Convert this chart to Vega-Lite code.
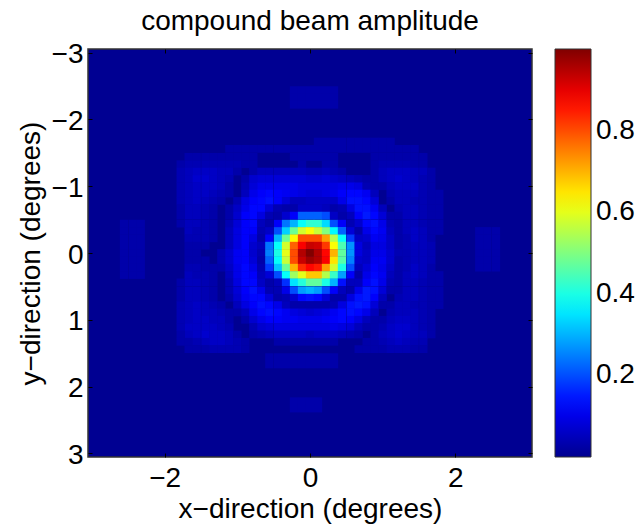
{"$schema":"https://vega.github.io/schema/vega-lite/v6.json","autosize":"none","padding":{"left":88,"right":103,"top":49,"bottom":67},"width":444,"height":408,"background":"white",
"title":{"text":"compound beam amplitude","font":"Liberation Sans","fontSize":28,"fontWeight":"normal","color":"black","offset":5,"anchor":"middle"},
"config":{"view":{"fill":"#000092","stroke":"#333333","strokeWidth":1.5}},
"resolve":{"scale":{"x":"independent","y":"independent"},"axis":{"x":"independent","y":"independent"}},
"layer":[{"data":{"values":[
{"x":0.11,"y":-1.67,"v":0.03},{"x":0.22,"y":-1.67,"v":0.03},{"x":0.33,"y":-1.67,"v":0.03},{"x":0.44,"y":-1.67,"v":0.03},{"x":0.56,"y":-1.67,"v":0.03},{"x":0.67,"y":-1.67,"v":0.03},{"x":0.78,"y":-1.67,"v":0.03},{"x":0.89,"y":-1.67,"v":0.03},{"x":1,"y":-1.67,"v":0.03},{"x":1.11,"y":-1.67,"v":0.03},
{"x":-1.11,"y":-1.56,"v":0.03},{"x":-1,"y":-1.56,"v":0.03},{"x":-0.89,"y":-1.56,"v":0.03},{"x":-0.78,"y":-1.56,"v":0.03},{"x":-0.67,"y":-1.56,"v":0.03},{"x":-0.56,"y":-1.56,"v":0.03},{"x":-0.44,"y":-1.56,"v":0.03},{"x":-0.33,"y":-1.56,"v":0.03},{"x":-0.22,"y":-1.56,"v":0.03},{"x":-0.11,"y":-1.56,"v":0.03},{"x":0,"y":-1.56,"v":0.03},{"x":0.11,"y":-1.56,"v":0.03},{"x":0.22,"y":-1.56,"v":0.03},{"x":0.33,"y":-1.56,"v":0.03},{"x":0.44,"y":-1.56,"v":0.03},{"x":0.56,"y":-1.56,"v":0.03},{"x":0.67,"y":-1.56,"v":0.03},{"x":0.78,"y":-1.56,"v":0.03},{"x":0.89,"y":-1.56,"v":0.03},{"x":1,"y":-1.56,"v":0.03},{"x":1.11,"y":-1.56,"v":0.03},{"x":1.22,"y":-1.56,"v":0.03},{"x":1.33,"y":-1.56,"v":0.03},{"x":1.44,"y":-1.56,"v":0.03},
{"x":-1.67,"y":-1.44,"v":0.03},{"x":-1.56,"y":-1.44,"v":0.03},{"x":-1.44,"y":-1.44,"v":0.03},{"x":-1.33,"y":-1.44,"v":0.03},{"x":-1.22,"y":-1.44,"v":0.03},{"x":-1.11,"y":-1.44,"v":0.03},{"x":-1,"y":-1.44,"v":0.03},{"x":-0.89,"y":-1.44,"v":0.03},{"x":-0.78,"y":-1.44,"v":0.03},{"x":-0.22,"y":-1.44,"v":0.03},{"x":-0.11,"y":-1.44,"v":0.03},{"x":0,"y":-1.44,"v":0.03},{"x":0.11,"y":-1.44,"v":0.03},{"x":0.22,"y":-1.44,"v":0.03},{"x":0.33,"y":-1.44,"v":0.03},{"x":0.89,"y":-1.44,"v":0.03},{"x":1,"y":-1.44,"v":0.03},{"x":1.11,"y":-1.44,"v":0.03},{"x":1.22,"y":-1.44,"v":0.03},{"x":1.33,"y":-1.44,"v":0.03},{"x":1.44,"y":-1.44,"v":0.03},{"x":1.56,"y":-1.44,"v":0.03},
{"x":-1.67,"y":-1.33,"v":0.04},{"x":-1.56,"y":-1.33,"v":0.04},{"x":-1.44,"y":-1.33,"v":0.04},{"x":-1.33,"y":-1.33,"v":0.04},{"x":-1.22,"y":-1.33,"v":0.04},{"x":-1.11,"y":-1.33,"v":0.04},{"x":-1,"y":-1.33,"v":0.04},{"x":-0.89,"y":-1.33,"v":0.03},{"x":-0.78,"y":-1.33,"v":0.03},{"x":-0.11,"y":-1.33,"v":0.03},{"x":0.22,"y":-1.33,"v":0.03},{"x":0.33,"y":-1.33,"v":0.03},{"x":0.89,"y":-1.33,"v":0.03},{"x":1,"y":-1.33,"v":0.04},{"x":1.11,"y":-1.33,"v":0.04},{"x":1.22,"y":-1.33,"v":0.04},{"x":1.33,"y":-1.33,"v":0.04},{"x":1.44,"y":-1.33,"v":0.03},{"x":1.56,"y":-1.33,"v":0.03},
{"x":-1.67,"y":-1.22,"v":0.05},{"x":-1.56,"y":-1.22,"v":0.06},{"x":-1.44,"y":-1.22,"v":0.06},{"x":-1.33,"y":-1.22,"v":0.06},{"x":-1.22,"y":-1.22,"v":0.05},{"x":-1.11,"y":-1.22,"v":0.05},{"x":-1,"y":-1.22,"v":0.03},{"x":-0.78,"y":-1.22,"v":0.03},{"x":-0.67,"y":-1.22,"v":0.05},{"x":-0.56,"y":-1.22,"v":0.05},{"x":-0.44,"y":-1.22,"v":0.05},{"x":-0.33,"y":-1.22,"v":0.05},{"x":-0.22,"y":-1.22,"v":0.05},{"x":-0.11,"y":-1.22,"v":0.05},{"x":0,"y":-1.22,"v":0.04},{"x":0.11,"y":-1.22,"v":0.04},{"x":0.22,"y":-1.22,"v":0.05},{"x":0.33,"y":-1.22,"v":0.04},{"x":0.44,"y":-1.22,"v":0.03},{"x":0.89,"y":-1.22,"v":0.03},{"x":1,"y":-1.22,"v":0.05},{"x":1.11,"y":-1.22,"v":0.06},{"x":1.22,"y":-1.22,"v":0.06},{"x":1.33,"y":-1.22,"v":0.06},{"x":1.44,"y":-1.22,"v":0.05},{"x":1.56,"y":-1.22,"v":0.05},{"x":1.67,"y":-1.22,"v":0.03},
{"x":-1.67,"y":-1.11,"v":0.05},{"x":-1.56,"y":-1.11,"v":0.07},{"x":-1.44,"y":-1.11,"v":0.07},{"x":-1.33,"y":-1.11,"v":0.06},{"x":-1.22,"y":-1.11,"v":0.05},{"x":-1.11,"y":-1.11,"v":0.04},{"x":-0.89,"y":-1.11,"v":0.03},{"x":-0.78,"y":-1.11,"v":0.07},{"x":-0.67,"y":-1.11,"v":0.08},{"x":-0.56,"y":-1.11,"v":0.08},{"x":-0.44,"y":-1.11,"v":0.08},{"x":-0.33,"y":-1.11,"v":0.08},{"x":-0.22,"y":-1.11,"v":0.08},{"x":-0.11,"y":-1.11,"v":0.08},{"x":0,"y":-1.11,"v":0.07},{"x":0.11,"y":-1.11,"v":0.07},{"x":0.22,"y":-1.11,"v":0.08},{"x":0.33,"y":-1.11,"v":0.07},{"x":0.44,"y":-1.11,"v":0.06},{"x":0.56,"y":-1.11,"v":0.05},{"x":0.67,"y":-1.11,"v":0.04},{"x":0.78,"y":-1.11,"v":0.03},{"x":0.89,"y":-1.11,"v":0.03},{"x":1,"y":-1.11,"v":0.05},{"x":1.11,"y":-1.11,"v":0.06},{"x":1.22,"y":-1.11,"v":0.07},{"x":1.33,"y":-1.11,"v":0.06},{"x":1.44,"y":-1.11,"v":0.05},{"x":1.56,"y":-1.11,"v":0.04},{"x":1.67,"y":-1.11,"v":0.03},
{"x":-1.67,"y":-1,"v":0.05},{"x":-1.56,"y":-1,"v":0.06},{"x":-1.44,"y":-1,"v":0.06},{"x":-1.33,"y":-1,"v":0.06},{"x":-1.22,"y":-1,"v":0.05},{"x":-1.11,"y":-1,"v":0.03},{"x":-0.89,"y":-1,"v":0.04},{"x":-0.78,"y":-1,"v":0.08},{"x":-0.67,"y":-1,"v":0.1},{"x":-0.56,"y":-1,"v":0.1},{"x":-0.44,"y":-1,"v":0.1},{"x":-0.33,"y":-1,"v":0.1},{"x":-0.22,"y":-1,"v":0.1},{"x":-0.11,"y":-1,"v":0.09},{"x":0,"y":-1,"v":0.09},{"x":0.11,"y":-1,"v":0.09},{"x":0.22,"y":-1,"v":0.09},{"x":0.33,"y":-1,"v":0.09},{"x":0.44,"y":-1,"v":0.1},{"x":0.56,"y":-1,"v":0.1},{"x":0.67,"y":-1,"v":0.09},{"x":0.78,"y":-1,"v":0.04},{"x":0.89,"y":-1,"v":0.03},{"x":1,"y":-1,"v":0.03},{"x":1.11,"y":-1,"v":0.05},{"x":1.22,"y":-1,"v":0.06},{"x":1.33,"y":-1,"v":0.06},{"x":1.44,"y":-1,"v":0.06},{"x":1.56,"y":-1,"v":0.04},{"x":1.67,"y":-1,"v":0.03},
{"x":-1.67,"y":-0.89,"v":0.05},{"x":-1.56,"y":-0.89,"v":0.06},{"x":-1.44,"y":-0.89,"v":0.06},{"x":-1.33,"y":-0.89,"v":0.05},{"x":-1.22,"y":-0.89,"v":0.04},{"x":-1.11,"y":-0.89,"v":0.03},{"x":-0.89,"y":-0.89,"v":0.05},{"x":-0.78,"y":-0.89,"v":0.1},{"x":-0.67,"y":-0.89,"v":0.12},{"x":-0.56,"y":-0.89,"v":0.13},{"x":-0.44,"y":-0.89,"v":0.12},{"x":-0.33,"y":-0.89,"v":0.11},{"x":-0.22,"y":-0.89,"v":0.1},{"x":-0.11,"y":-0.89,"v":0.09},{"x":0,"y":-0.89,"v":0.08},{"x":0.11,"y":-0.89,"v":0.08},{"x":0.22,"y":-0.89,"v":0.09},{"x":0.33,"y":-0.89,"v":0.1},{"x":0.44,"y":-0.89,"v":0.12},{"x":0.56,"y":-0.89,"v":0.13},{"x":0.67,"y":-0.89,"v":0.13},{"x":0.78,"y":-0.89,"v":0.11},{"x":0.89,"y":-0.89,"v":0.05},{"x":1.11,"y":-0.89,"v":0.04},{"x":1.22,"y":-0.89,"v":0.05},{"x":1.33,"y":-0.89,"v":0.05},{"x":1.44,"y":-0.89,"v":0.05},{"x":1.56,"y":-0.89,"v":0.04},{"x":1.67,"y":-0.89,"v":0.03},
{"x":-1.67,"y":-0.78,"v":0.05},{"x":-1.56,"y":-0.78,"v":0.06},{"x":-1.44,"y":-0.78,"v":0.05},{"x":-1.33,"y":-0.78,"v":0.04},{"x":-1.22,"y":-0.78,"v":0.03},{"x":-1,"y":-0.78,"v":0.04},{"x":-0.89,"y":-0.78,"v":0.09},{"x":-0.78,"y":-0.78,"v":0.12},{"x":-0.67,"y":-0.78,"v":0.13},{"x":-0.56,"y":-0.78,"v":0.14},{"x":-0.44,"y":-0.78,"v":0.12},{"x":-0.33,"y":-0.78,"v":0.08},{"x":-0.22,"y":-0.78,"v":0.05},{"x":-0.11,"y":-0.78,"v":0.05},{"x":0,"y":-0.78,"v":0.06},{"x":0.11,"y":-0.78,"v":0.06},{"x":0.22,"y":-0.78,"v":0.06},{"x":0.33,"y":-0.78,"v":0.06},{"x":0.44,"y":-0.78,"v":0.1},{"x":0.56,"y":-0.78,"v":0.14},{"x":0.67,"y":-0.78,"v":0.14},{"x":0.78,"y":-0.78,"v":0.13},{"x":0.89,"y":-0.78,"v":0.08},{"x":1.11,"y":-0.78,"v":0.03},{"x":1.22,"y":-0.78,"v":0.05},{"x":1.33,"y":-0.78,"v":0.05},{"x":1.44,"y":-0.78,"v":0.04},{"x":1.56,"y":-0.78,"v":0.04},{"x":1.67,"y":-0.78,"v":0.03},
{"x":-1.67,"y":-0.67,"v":0.05},{"x":-1.56,"y":-0.67,"v":0.05},{"x":-1.44,"y":-0.67,"v":0.04},{"x":-1.33,"y":-0.67,"v":0.03},{"x":-1.11,"y":-0.67,"v":0.03},{"x":-1,"y":-0.67,"v":0.06},{"x":-0.89,"y":-0.67,"v":0.1},{"x":-0.78,"y":-0.67,"v":0.13},{"x":-0.67,"y":-0.67,"v":0.13},{"x":-0.56,"y":-0.67,"v":0.08},{"x":-0.44,"y":-0.67,"v":0.04},{"x":-0.33,"y":-0.67,"v":0.03},{"x":-0.22,"y":-0.67,"v":0.03},{"x":-0.11,"y":-0.67,"v":0.06},{"x":0,"y":-0.67,"v":0.06},{"x":0.11,"y":-0.67,"v":0.06},{"x":0.22,"y":-0.67,"v":0.05},{"x":0.33,"y":-0.67,"v":0.03},{"x":0.44,"y":-0.67,"v":0.04},{"x":0.56,"y":-0.67,"v":0.09},{"x":0.67,"y":-0.67,"v":0.14},{"x":0.78,"y":-0.67,"v":0.14},{"x":0.89,"y":-0.67,"v":0.11},{"x":1,"y":-0.67,"v":0.05},{"x":1.22,"y":-0.67,"v":0.04},{"x":1.33,"y":-0.67,"v":0.05},{"x":1.44,"y":-0.67,"v":0.05},{"x":1.56,"y":-0.67,"v":0.04},{"x":1.67,"y":-0.67,"v":0.03},
{"x":-1.67,"y":-0.56,"v":0.05},{"x":-1.56,"y":-0.56,"v":0.05},{"x":-1.44,"y":-0.56,"v":0.04},{"x":-1.33,"y":-0.56,"v":0.03},{"x":-1.11,"y":-0.56,"v":0.03},{"x":-1,"y":-0.56,"v":0.07},{"x":-0.89,"y":-0.56,"v":0.12},{"x":-0.78,"y":-0.56,"v":0.13},{"x":-0.67,"y":-0.56,"v":0.09},{"x":-0.56,"y":-0.56,"v":0.04},{"x":-0.44,"y":-0.56,"v":0.03},{"x":-0.33,"y":-0.56,"v":0.07},{"x":-0.22,"y":-0.56,"v":0.12},{"x":-0.11,"y":-0.56,"v":0.22},{"x":0,"y":-0.56,"v":0.22},{"x":0.11,"y":-0.56,"v":0.22},{"x":0.22,"y":-0.56,"v":0.2},{"x":0.33,"y":-0.56,"v":0.06},{"x":0.44,"y":-0.56,"v":0.03},{"x":0.56,"y":-0.56,"v":0.05},{"x":0.67,"y":-0.56,"v":0.12},{"x":0.78,"y":-0.56,"v":0.15},{"x":0.89,"y":-0.56,"v":0.13},{"x":1,"y":-0.56,"v":0.08},{"x":1.11,"y":-0.56,"v":0.03},{"x":1.22,"y":-0.56,"v":0.03},{"x":1.33,"y":-0.56,"v":0.05},{"x":1.44,"y":-0.56,"v":0.05},{"x":1.56,"y":-0.56,"v":0.04},{"x":1.67,"y":-0.56,"v":0.03},
{"x":-1.67,"y":-0.44,"v":0.05},{"x":-1.56,"y":-0.44,"v":0.05},{"x":-1.44,"y":-0.44,"v":0.04},{"x":-1.33,"y":-0.44,"v":0.03},{"x":-1.11,"y":-0.44,"v":0.04},{"x":-1,"y":-0.44,"v":0.08},{"x":-0.89,"y":-0.44,"v":0.12},{"x":-0.78,"y":-0.44,"v":0.13},{"x":-0.67,"y":-0.44,"v":0.05},{"x":-0.56,"y":-0.44,"v":0.03},{"x":-0.44,"y":-0.44,"v":0.12},{"x":-0.33,"y":-0.44,"v":0.24},{"x":-0.22,"y":-0.44,"v":0.3},{"x":-0.11,"y":-0.44,"v":0.38},{"x":0,"y":-0.44,"v":0.42},{"x":0.11,"y":-0.44,"v":0.42},{"x":0.22,"y":-0.44,"v":0.34},{"x":0.33,"y":-0.44,"v":0.2},{"x":0.44,"y":-0.44,"v":0.12},{"x":0.56,"y":-0.44,"v":0.04},{"x":0.67,"y":-0.44,"v":0.07},{"x":0.78,"y":-0.44,"v":0.13},{"x":0.89,"y":-0.44,"v":0.14},{"x":1,"y":-0.44,"v":0.1},{"x":1.11,"y":-0.44,"v":0.04},{"x":1.22,"y":-0.44,"v":0.03},{"x":1.33,"y":-0.44,"v":0.05},{"x":1.44,"y":-0.44,"v":0.05},{"x":1.56,"y":-0.44,"v":0.04},{"x":1.67,"y":-0.44,"v":0.03},
{"x":-1.67,"y":-0.33,"v":0.05},{"x":-1.56,"y":-0.33,"v":0.04},{"x":-1.44,"y":-0.33,"v":0.04},{"x":-1.33,"y":-0.33,"v":0.03},{"x":-1.11,"y":-0.33,"v":0.05},{"x":-1,"y":-0.33,"v":0.09},{"x":-0.89,"y":-0.33,"v":0.12},{"x":-0.78,"y":-0.33,"v":0.12},{"x":-0.67,"y":-0.33,"v":0.04},{"x":-0.56,"y":-0.33,"v":0.06},{"x":-0.44,"y":-0.33,"v":0.2},{"x":-0.33,"y":-0.33,"v":0.33},{"x":-0.22,"y":-0.33,"v":0.48},{"x":-0.11,"y":-0.33,"v":0.58},{"x":0,"y":-0.33,"v":0.62},{"x":0.11,"y":-0.33,"v":0.57},{"x":0.22,"y":-0.33,"v":0.5},{"x":0.33,"y":-0.33,"v":0.37},{"x":0.44,"y":-0.33,"v":0.22},{"x":0.56,"y":-0.33,"v":0.08},{"x":0.67,"y":-0.33,"v":0.03},{"x":0.78,"y":-0.33,"v":0.1},{"x":0.89,"y":-0.33,"v":0.13},{"x":1,"y":-0.33,"v":0.11},{"x":1.11,"y":-0.33,"v":0.05},{"x":1.22,"y":-0.33,"v":0.03},{"x":1.33,"y":-0.33,"v":0.05},{"x":1.44,"y":-0.33,"v":0.06},{"x":1.56,"y":-0.33,"v":0.05},{"x":1.67,"y":-0.33,"v":0.03},
{"x":-1.67,"y":-0.22,"v":0.04},{"x":-1.56,"y":-0.22,"v":0.04},{"x":-1.44,"y":-0.22,"v":0.04},{"x":-1.33,"y":-0.22,"v":0.03},{"x":-1.11,"y":-0.22,"v":0.05},{"x":-1,"y":-0.22,"v":0.09},{"x":-0.89,"y":-0.22,"v":0.12},{"x":-0.78,"y":-0.22,"v":0.09},{"x":-0.67,"y":-0.22,"v":0.03},{"x":-0.56,"y":-0.22,"v":0.12},{"x":-0.44,"y":-0.22,"v":0.3},{"x":-0.33,"y":-0.22,"v":0.48},{"x":-0.22,"y":-0.22,"v":0.63},{"x":-0.11,"y":-0.22,"v":0.8},{"x":0,"y":-0.22,"v":0.8},{"x":0.11,"y":-0.22,"v":0.8},{"x":0.22,"y":-0.22,"v":0.72},{"x":0.33,"y":-0.22,"v":0.55},{"x":0.44,"y":-0.22,"v":0.38},{"x":0.56,"y":-0.22,"v":0.18},{"x":0.67,"y":-0.22,"v":0.06},{"x":0.78,"y":-0.22,"v":0.07},{"x":0.89,"y":-0.22,"v":0.11},{"x":1,"y":-0.22,"v":0.1},{"x":1.11,"y":-0.22,"v":0.06},{"x":1.22,"y":-0.22,"v":0.03},{"x":1.33,"y":-0.22,"v":0.04},{"x":1.44,"y":-0.22,"v":0.06},{"x":1.56,"y":-0.22,"v":0.05},{"x":1.67,"y":-0.22,"v":0.03},
{"x":-1.67,"y":-0.11,"v":0.03},{"x":-1.56,"y":-0.11,"v":0.03},{"x":-1.44,"y":-0.11,"v":0.03},{"x":-1.11,"y":-0.11,"v":0.05},{"x":-1,"y":-0.11,"v":0.09},{"x":-0.89,"y":-0.11,"v":0.12},{"x":-0.78,"y":-0.11,"v":0.07},{"x":-0.67,"y":-0.11,"v":0.05},{"x":-0.56,"y":-0.11,"v":0.24},{"x":-0.44,"y":-0.11,"v":0.38},{"x":-0.33,"y":-0.11,"v":0.58},{"x":-0.22,"y":-0.11,"v":0.78},{"x":-0.11,"y":-0.11,"v":0.88},{"x":0,"y":-0.11,"v":0.93},{"x":0.11,"y":-0.11,"v":0.92},{"x":0.22,"y":-0.11,"v":0.82},{"x":0.33,"y":-0.11,"v":0.62},{"x":0.44,"y":-0.11,"v":0.45},{"x":0.56,"y":-0.11,"v":0.27},{"x":0.67,"y":-0.11,"v":0.09},{"x":0.78,"y":-0.11,"v":0.05},{"x":0.89,"y":-0.11,"v":0.09},{"x":1,"y":-0.11,"v":0.09},{"x":1.11,"y":-0.11,"v":0.06},{"x":1.22,"y":-0.11,"v":0.03},{"x":1.33,"y":-0.11,"v":0.04},{"x":1.44,"y":-0.11,"v":0.05},{"x":1.56,"y":-0.11,"v":0.05},{"x":1.67,"y":-0.11,"v":0.04},
{"x":-1.67,"y":0,"v":0.03},{"x":-1.56,"y":0,"v":0.03},{"x":-1.22,"y":0,"v":0.04},{"x":-1.11,"y":0,"v":0.07},{"x":-1,"y":0,"v":0.11},{"x":-0.89,"y":0,"v":0.12},{"x":-0.78,"y":0,"v":0.07},{"x":-0.67,"y":0,"v":0.04},{"x":-0.56,"y":0,"v":0.25},{"x":-0.44,"y":0,"v":0.4},{"x":-0.33,"y":0,"v":0.6},{"x":-0.22,"y":0,"v":0.8},{"x":-0.11,"y":0,"v":0.95},{"x":0,"y":0,"v":1},{"x":0.11,"y":0,"v":0.95},{"x":0.22,"y":0,"v":0.87},{"x":0.33,"y":0,"v":0.7},{"x":0.44,"y":0,"v":0.47},{"x":0.56,"y":0,"v":0.27},{"x":0.67,"y":0,"v":0.09},{"x":0.78,"y":0,"v":0.06},{"x":0.89,"y":0,"v":0.1},{"x":1,"y":0,"v":0.1},{"x":1.11,"y":0,"v":0.07},{"x":1.22,"y":0,"v":0.04},{"x":1.33,"y":0,"v":0.04},{"x":1.44,"y":0,"v":0.05},{"x":1.56,"y":0,"v":0.05},{"x":1.67,"y":0,"v":0.04},
{"x":-1.67,"y":0.11,"v":0.03},{"x":-1.56,"y":0.11,"v":0.03},{"x":-1.44,"y":0.11,"v":0.03},{"x":-1.22,"y":0.11,"v":0.04},{"x":-1.11,"y":0.11,"v":0.07},{"x":-1,"y":0.11,"v":0.11},{"x":-0.89,"y":0.11,"v":0.12},{"x":-0.78,"y":0.11,"v":0.08},{"x":-0.67,"y":0.11,"v":0.03},{"x":-0.56,"y":0.11,"v":0.22},{"x":-0.44,"y":0.11,"v":0.38},{"x":-0.33,"y":0.11,"v":0.57},{"x":-0.22,"y":0.11,"v":0.8},{"x":-0.11,"y":0.11,"v":0.93},{"x":0,"y":0.11,"v":0.97},{"x":0.11,"y":0.11,"v":0.95},{"x":0.22,"y":0.11,"v":0.88},{"x":0.33,"y":0.11,"v":0.65},{"x":0.44,"y":0.11,"v":0.46},{"x":0.56,"y":0.11,"v":0.25},{"x":0.67,"y":0.11,"v":0.07},{"x":0.78,"y":0.11,"v":0.06},{"x":0.89,"y":0.11,"v":0.11},{"x":1,"y":0.11,"v":0.11},{"x":1.11,"y":0.11,"v":0.07},{"x":1.22,"y":0.11,"v":0.03},{"x":1.33,"y":0.11,"v":0.04},{"x":1.44,"y":0.11,"v":0.05},{"x":1.56,"y":0.11,"v":0.05},{"x":1.67,"y":0.11,"v":0.04},
{"x":-1.67,"y":0.22,"v":0.04},{"x":-1.56,"y":0.22,"v":0.04},{"x":-1.44,"y":0.22,"v":0.03},{"x":-1.33,"y":0.22,"v":0.03},{"x":-1.22,"y":0.22,"v":0.03},{"x":-1.11,"y":0.22,"v":0.06},{"x":-1,"y":0.22,"v":0.1},{"x":-0.89,"y":0.22,"v":0.13},{"x":-0.78,"y":0.22,"v":0.1},{"x":-0.67,"y":0.22,"v":0.04},{"x":-0.56,"y":0.22,"v":0.18},{"x":-0.44,"y":0.22,"v":0.32},{"x":-0.33,"y":0.22,"v":0.48},{"x":-0.22,"y":0.22,"v":0.7},{"x":-0.11,"y":0.22,"v":0.83},{"x":0,"y":0.22,"v":0.87},{"x":0.11,"y":0.22,"v":0.85},{"x":0.22,"y":0.22,"v":0.72},{"x":0.33,"y":0.22,"v":0.58},{"x":0.44,"y":0.22,"v":0.4},{"x":0.56,"y":0.22,"v":0.2},{"x":0.67,"y":0.22,"v":0.05},{"x":0.78,"y":0.22,"v":0.08},{"x":0.89,"y":0.22,"v":0.12},{"x":1,"y":0.22,"v":0.1},{"x":1.11,"y":0.22,"v":0.06},{"x":1.22,"y":0.22,"v":0.03},{"x":1.33,"y":0.22,"v":0.04},{"x":1.44,"y":0.22,"v":0.06},{"x":1.56,"y":0.22,"v":0.05},{"x":1.67,"y":0.22,"v":0.03},
{"x":-1.67,"y":0.33,"v":0.05},{"x":-1.56,"y":0.33,"v":0.04},{"x":-1.44,"y":0.33,"v":0.04},{"x":-1.33,"y":0.33,"v":0.03},{"x":-1.11,"y":0.33,"v":0.05},{"x":-1,"y":0.33,"v":0.1},{"x":-0.89,"y":0.33,"v":0.13},{"x":-0.78,"y":0.33,"v":0.12},{"x":-0.67,"y":0.33,"v":0.05},{"x":-0.56,"y":0.33,"v":0.08},{"x":-0.44,"y":0.33,"v":0.2},{"x":-0.33,"y":0.33,"v":0.38},{"x":-0.22,"y":0.33,"v":0.53},{"x":-0.11,"y":0.33,"v":0.6},{"x":0,"y":0.33,"v":0.68},{"x":0.11,"y":0.33,"v":0.68},{"x":0.22,"y":0.33,"v":0.55},{"x":0.33,"y":0.33,"v":0.43},{"x":0.44,"y":0.33,"v":0.28},{"x":0.56,"y":0.33,"v":0.12},{"x":0.67,"y":0.33,"v":0.03},{"x":0.78,"y":0.33,"v":0.1},{"x":0.89,"y":0.33,"v":0.13},{"x":1,"y":0.33,"v":0.11},{"x":1.11,"y":0.33,"v":0.05},{"x":1.22,"y":0.33,"v":0.03},{"x":1.33,"y":0.33,"v":0.05},{"x":1.44,"y":0.33,"v":0.06},{"x":1.56,"y":0.33,"v":0.05},{"x":1.67,"y":0.33,"v":0.03},
{"x":-1.67,"y":0.44,"v":0.05},{"x":-1.56,"y":0.44,"v":0.05},{"x":-1.44,"y":0.44,"v":0.04},{"x":-1.33,"y":0.44,"v":0.03},{"x":-1.11,"y":0.44,"v":0.04},{"x":-1,"y":0.44,"v":0.09},{"x":-0.89,"y":0.44,"v":0.13},{"x":-0.78,"y":0.44,"v":0.13},{"x":-0.67,"y":0.44,"v":0.06},{"x":-0.56,"y":0.44,"v":0.03},{"x":-0.44,"y":0.44,"v":0.05},{"x":-0.33,"y":0.44,"v":0.17},{"x":-0.22,"y":0.44,"v":0.35},{"x":-0.11,"y":0.44,"v":0.41},{"x":0,"y":0.44,"v":0.47},{"x":0.11,"y":0.44,"v":0.47},{"x":0.22,"y":0.44,"v":0.4},{"x":0.33,"y":0.44,"v":0.3},{"x":0.44,"y":0.44,"v":0.14},{"x":0.56,"y":0.44,"v":0.05},{"x":0.67,"y":0.44,"v":0.05},{"x":0.78,"y":0.44,"v":0.12},{"x":0.89,"y":0.44,"v":0.14},{"x":1,"y":0.44,"v":0.1},{"x":1.11,"y":0.44,"v":0.04},{"x":1.22,"y":0.44,"v":0.03},{"x":1.33,"y":0.44,"v":0.05},{"x":1.44,"y":0.44,"v":0.05},{"x":1.56,"y":0.44,"v":0.04},{"x":1.67,"y":0.44,"v":0.03},
{"x":-1.67,"y":0.56,"v":0.05},{"x":-1.56,"y":0.56,"v":0.05},{"x":-1.44,"y":0.56,"v":0.04},{"x":-1.33,"y":0.56,"v":0.03},{"x":-1.11,"y":0.56,"v":0.04},{"x":-1,"y":0.56,"v":0.08},{"x":-0.89,"y":0.56,"v":0.12},{"x":-0.78,"y":0.56,"v":0.14},{"x":-0.67,"y":0.56,"v":0.1},{"x":-0.56,"y":0.56,"v":0.04},{"x":-0.44,"y":0.56,"v":0.04},{"x":-0.33,"y":0.56,"v":0.1},{"x":-0.22,"y":0.56,"v":0.2},{"x":-0.11,"y":0.56,"v":0.28},{"x":0,"y":0.56,"v":0.3},{"x":0.11,"y":0.56,"v":0.28},{"x":0.22,"y":0.56,"v":0.2},{"x":0.33,"y":0.56,"v":0.12},{"x":0.44,"y":0.56,"v":0.05},{"x":0.56,"y":0.56,"v":0.03},{"x":0.67,"y":0.56,"v":0.1},{"x":0.78,"y":0.56,"v":0.15},{"x":0.89,"y":0.56,"v":0.14},{"x":1,"y":0.56,"v":0.08},{"x":1.11,"y":0.56,"v":0.03},{"x":1.22,"y":0.56,"v":0.03},{"x":1.33,"y":0.56,"v":0.05},{"x":1.44,"y":0.56,"v":0.05},{"x":1.56,"y":0.56,"v":0.04},{"x":1.67,"y":0.56,"v":0.03},
{"x":-1.67,"y":0.67,"v":0.05},{"x":-1.56,"y":0.67,"v":0.05},{"x":-1.44,"y":0.67,"v":0.04},{"x":-1.33,"y":0.67,"v":0.03},{"x":-1.11,"y":0.67,"v":0.03},{"x":-1,"y":0.67,"v":0.07},{"x":-0.89,"y":0.67,"v":0.11},{"x":-0.78,"y":0.67,"v":0.13},{"x":-0.67,"y":0.67,"v":0.13},{"x":-0.56,"y":0.67,"v":0.08},{"x":-0.44,"y":0.67,"v":0.03},{"x":-0.33,"y":0.67,"v":0.04},{"x":-0.22,"y":0.67,"v":0.07},{"x":-0.11,"y":0.67,"v":0.13},{"x":0,"y":0.67,"v":0.14},{"x":0.11,"y":0.67,"v":0.13},{"x":0.22,"y":0.67,"v":0.08},{"x":0.33,"y":0.67,"v":0.03},{"x":0.44,"y":0.67,"v":0.03},{"x":0.56,"y":0.67,"v":0.09},{"x":0.67,"y":0.67,"v":0.14},{"x":0.78,"y":0.67,"v":0.15},{"x":0.89,"y":0.67,"v":0.12},{"x":1,"y":0.67,"v":0.05},{"x":1.22,"y":0.67,"v":0.04},{"x":1.33,"y":0.67,"v":0.05},{"x":1.44,"y":0.67,"v":0.05},{"x":1.56,"y":0.67,"v":0.04},{"x":1.67,"y":0.67,"v":0.03},
{"x":-1.67,"y":0.78,"v":0.05},{"x":-1.56,"y":0.78,"v":0.06},{"x":-1.44,"y":0.78,"v":0.05},{"x":-1.33,"y":0.78,"v":0.04},{"x":-1.22,"y":0.78,"v":0.03},{"x":-1,"y":0.78,"v":0.05},{"x":-0.89,"y":0.78,"v":0.09},{"x":-0.78,"y":0.78,"v":0.12},{"x":-0.67,"y":0.78,"v":0.14},{"x":-0.56,"y":0.78,"v":0.13},{"x":-0.44,"y":0.78,"v":0.1},{"x":-0.33,"y":0.78,"v":0.05},{"x":-0.22,"y":0.78,"v":0.03},{"x":-0.11,"y":0.78,"v":0.03},{"x":0,"y":0.78,"v":0.03},{"x":0.11,"y":0.78,"v":0.03},{"x":0.22,"y":0.78,"v":0.03},{"x":0.33,"y":0.78,"v":0.04},{"x":0.44,"y":0.78,"v":0.09},{"x":0.56,"y":0.78,"v":0.14},{"x":0.67,"y":0.78,"v":0.15},{"x":0.78,"y":0.78,"v":0.14},{"x":0.89,"y":0.78,"v":0.08},{"x":1,"y":0.78,"v":0.03},{"x":1.11,"y":0.78,"v":0.03},{"x":1.22,"y":0.78,"v":0.05},{"x":1.33,"y":0.78,"v":0.05},{"x":1.44,"y":0.78,"v":0.04},{"x":1.56,"y":0.78,"v":0.04},{"x":1.67,"y":0.78,"v":0.03},
{"x":-1.67,"y":0.89,"v":0.05},{"x":-1.56,"y":0.89,"v":0.06},{"x":-1.44,"y":0.89,"v":0.05},{"x":-1.33,"y":0.89,"v":0.05},{"x":-1.22,"y":0.89,"v":0.04},{"x":-1.11,"y":0.89,"v":0.03},{"x":-1,"y":0.89,"v":0.03},{"x":-0.89,"y":0.89,"v":0.05},{"x":-0.78,"y":0.89,"v":0.1},{"x":-0.67,"y":0.89,"v":0.13},{"x":-0.56,"y":0.89,"v":0.14},{"x":-0.44,"y":0.89,"v":0.13},{"x":-0.33,"y":0.89,"v":0.11},{"x":-0.22,"y":0.89,"v":0.09},{"x":-0.11,"y":0.89,"v":0.08},{"x":0,"y":0.89,"v":0.07},{"x":0.11,"y":0.89,"v":0.08},{"x":0.22,"y":0.89,"v":0.09},{"x":0.33,"y":0.89,"v":0.11},{"x":0.44,"y":0.89,"v":0.13},{"x":0.56,"y":0.89,"v":0.14},{"x":0.67,"y":0.89,"v":0.13},{"x":0.78,"y":0.89,"v":0.1},{"x":0.89,"y":0.89,"v":0.05},{"x":1.11,"y":0.89,"v":0.04},{"x":1.22,"y":0.89,"v":0.05},{"x":1.33,"y":0.89,"v":0.05},{"x":1.44,"y":0.89,"v":0.05},{"x":1.56,"y":0.89,"v":0.04},{"x":1.67,"y":0.89,"v":0.03},
{"x":-1.67,"y":1,"v":0.05},{"x":-1.56,"y":1,"v":0.06},{"x":-1.44,"y":1,"v":0.06},{"x":-1.33,"y":1,"v":0.05},{"x":-1.22,"y":1,"v":0.05},{"x":-1.11,"y":1,"v":0.03},{"x":-0.89,"y":1,"v":0.03},{"x":-0.78,"y":1,"v":0.07},{"x":-0.67,"y":1,"v":0.1},{"x":-0.56,"y":1,"v":0.12},{"x":-0.44,"y":1,"v":0.12},{"x":-0.33,"y":1,"v":0.11},{"x":-0.22,"y":1,"v":0.11},{"x":-0.11,"y":1,"v":0.1},{"x":0,"y":1,"v":0.1},{"x":0.11,"y":1,"v":0.1},{"x":0.22,"y":1,"v":0.11},{"x":0.33,"y":1,"v":0.12},{"x":0.44,"y":1,"v":0.13},{"x":0.56,"y":1,"v":0.12},{"x":0.67,"y":1,"v":0.09},{"x":0.78,"y":1,"v":0.05},{"x":0.89,"y":1,"v":0.03},{"x":1,"y":1,"v":0.03},{"x":1.11,"y":1,"v":0.05},{"x":1.22,"y":1,"v":0.06},{"x":1.33,"y":1,"v":0.06},{"x":1.44,"y":1,"v":0.05},{"x":1.56,"y":1,"v":0.04},{"x":1.67,"y":1,"v":0.03},
{"x":-1.67,"y":1.11,"v":0.06},{"x":-1.56,"y":1.11,"v":0.06},{"x":-1.44,"y":1.11,"v":0.06},{"x":-1.33,"y":1.11,"v":0.06},{"x":-1.22,"y":1.11,"v":0.05},{"x":-1.11,"y":1.11,"v":0.04},{"x":-0.78,"y":1.11,"v":0.04},{"x":-0.67,"y":1.11,"v":0.07},{"x":-0.56,"y":1.11,"v":0.08},{"x":-0.44,"y":1.11,"v":0.09},{"x":-0.33,"y":1.11,"v":0.09},{"x":-0.22,"y":1.11,"v":0.09},{"x":-0.11,"y":1.11,"v":0.09},{"x":0,"y":1.11,"v":0.09},{"x":0.11,"y":1.11,"v":0.09},{"x":0.22,"y":1.11,"v":0.09},{"x":0.33,"y":1.11,"v":0.1},{"x":0.44,"y":1.11,"v":0.09},{"x":0.56,"y":1.11,"v":0.08},{"x":0.67,"y":1.11,"v":0.05},{"x":0.78,"y":1.11,"v":0.03},{"x":0.89,"y":1.11,"v":0.03},{"x":1,"y":1.11,"v":0.04},{"x":1.11,"y":1.11,"v":0.06},{"x":1.22,"y":1.11,"v":0.07},{"x":1.33,"y":1.11,"v":0.07},{"x":1.44,"y":1.11,"v":0.05},{"x":1.56,"y":1.11,"v":0.04},{"x":1.67,"y":1.11,"v":0.03},
{"x":-1.67,"y":1.22,"v":0.05},{"x":-1.56,"y":1.22,"v":0.06},{"x":-1.44,"y":1.22,"v":0.07},{"x":-1.33,"y":1.22,"v":0.06},{"x":-1.22,"y":1.22,"v":0.06},{"x":-1.11,"y":1.22,"v":0.05},{"x":-1,"y":1.22,"v":0.03},{"x":-0.78,"y":1.22,"v":0.03},{"x":-0.67,"y":1.22,"v":0.04},{"x":-0.56,"y":1.22,"v":0.05},{"x":-0.44,"y":1.22,"v":0.06},{"x":-0.33,"y":1.22,"v":0.06},{"x":-0.22,"y":1.22,"v":0.06},{"x":-0.11,"y":1.22,"v":0.06},{"x":0,"y":1.22,"v":0.05},{"x":0.11,"y":1.22,"v":0.06},{"x":0.22,"y":1.22,"v":0.06},{"x":0.33,"y":1.22,"v":0.06},{"x":0.44,"y":1.22,"v":0.05},{"x":0.56,"y":1.22,"v":0.04},{"x":0.67,"y":1.22,"v":0.03},{"x":0.89,"y":1.22,"v":0.03},{"x":1,"y":1.22,"v":0.05},{"x":1.11,"y":1.22,"v":0.06},{"x":1.22,"y":1.22,"v":0.07},{"x":1.33,"y":1.22,"v":0.06},{"x":1.44,"y":1.22,"v":0.05},{"x":1.56,"y":1.22,"v":0.05},{"x":1.67,"y":1.22,"v":0.03},
{"x":-1.67,"y":1.33,"v":0.03},{"x":-1.56,"y":1.33,"v":0.04},{"x":-1.44,"y":1.33,"v":0.05},{"x":-1.33,"y":1.33,"v":0.06},{"x":-1.22,"y":1.33,"v":0.06},{"x":-1.11,"y":1.33,"v":0.05},{"x":-1,"y":1.33,"v":0.04},{"x":-0.89,"y":1.33,"v":0.03},{"x":-0.44,"y":1.33,"v":0.03},{"x":-0.33,"y":1.33,"v":0.03},{"x":-0.22,"y":1.33,"v":0.03},{"x":-0.11,"y":1.33,"v":0.03},{"x":0,"y":1.33,"v":0.03},{"x":0.11,"y":1.33,"v":0.03},{"x":0.22,"y":1.33,"v":0.03},{"x":0.33,"y":1.33,"v":0.03},{"x":0.78,"y":1.33,"v":0.03},{"x":0.89,"y":1.33,"v":0.03},{"x":1,"y":1.33,"v":0.04},{"x":1.11,"y":1.33,"v":0.05},{"x":1.22,"y":1.33,"v":0.06},{"x":1.33,"y":1.33,"v":0.05},{"x":1.44,"y":1.33,"v":0.04},{"x":1.56,"y":1.33,"v":0.04},
{"x":-1.67,"y":1.44,"v":0.03},{"x":-1.56,"y":1.44,"v":0.03},{"x":-1.44,"y":1.44,"v":0.03},{"x":-1.33,"y":1.44,"v":0.04},{"x":-1.22,"y":1.44,"v":0.04},{"x":-1.11,"y":1.44,"v":0.04},{"x":-1,"y":1.44,"v":0.04},{"x":-0.89,"y":1.44,"v":0.03},{"x":0.67,"y":1.44,"v":0.03},{"x":0.78,"y":1.44,"v":0.03},{"x":0.89,"y":1.44,"v":0.03},{"x":1,"y":1.44,"v":0.03},{"x":1.11,"y":1.44,"v":0.04},{"x":1.22,"y":1.44,"v":0.04},{"x":1.33,"y":1.44,"v":0.04},{"x":1.44,"y":1.44,"v":0.03},{"x":1.56,"y":1.44,"v":0.03},
{"x":-0.56,"y":1.56,"v":0.03},{"x":-0.44,"y":1.56,"v":0.03},{"x":-0.33,"y":1.56,"v":0.03},{"x":-0.22,"y":1.56,"v":0.03},{"x":-0.11,"y":1.56,"v":0.03},{"x":0,"y":1.56,"v":0.03},{"x":0.11,"y":1.56,"v":0.03},{"x":0.22,"y":1.56,"v":0.03},{"x":0.33,"y":1.56,"v":0.03},
{"x":-0.56,"y":1.67,"v":0.03},{"x":-0.44,"y":1.67,"v":0.03},{"x":-0.33,"y":1.67,"v":0.03},{"x":-0.22,"y":1.67,"v":0.03},{"x":-0.11,"y":1.67,"v":0.03},{"x":0,"y":1.67,"v":0.03},{"x":0.11,"y":1.67,"v":0.03},{"x":0.22,"y":1.67,"v":0.03},{"x":0.33,"y":1.67,"v":0.03},
{"x":-1.78,"y":-1.33,"v":0.03},{"x":-1.78,"y":-1.22,"v":0.04},{"x":-1.78,"y":-1.11,"v":0.04},{"x":-1.78,"y":-1,"v":0.04},{"x":-1.78,"y":-0.89,"v":0.04},{"x":-1.78,"y":-0.78,"v":0.04},{"x":-1.78,"y":-0.67,"v":0.03},{"x":-1.78,"y":-0.56,"v":0.03},{"x":-1.78,"y":-0.44,"v":0.03},{"x":-1.78,"y":0.44,"v":0.03},{"x":-1.78,"y":0.56,"v":0.03},{"x":-1.78,"y":0.67,"v":0.03},{"x":-1.78,"y":0.78,"v":0.04},{"x":-1.78,"y":0.89,"v":0.04},{"x":-1.78,"y":1,"v":0.04},{"x":-1.78,"y":1.11,"v":0.04},{"x":-1.78,"y":1.22,"v":0.03},{"x":-1.78,"y":1.33,"v":0.03},
{"x":1.78,"y":-0.89,"v":0.03},{"x":1.78,"y":-0.78,"v":0.03},{"x":1.78,"y":-0.67,"v":0.03},{"x":1.78,"y":-0.56,"v":0.03},{"x":1.78,"y":-0.44,"v":0.03},{"x":1.78,"y":-0.33,"v":0.03},{"x":1.78,"y":0.33,"v":0.03},{"x":1.78,"y":0.44,"v":0.03},{"x":1.78,"y":0.56,"v":0.03},{"x":1.78,"y":0.67,"v":0.03},{"x":1.78,"y":0.78,"v":0.03},
{"x":-2.56,"y":-0.44,"v":0.03},{"x":-2.44,"y":-0.44,"v":0.03},{"x":-2.33,"y":-0.44,"v":0.03},{"x":-2.56,"y":-0.33,"v":0.03},{"x":-2.44,"y":-0.33,"v":0.03},{"x":-2.33,"y":-0.33,"v":0.03},{"x":-2.56,"y":-0.22,"v":0.03},{"x":-2.44,"y":-0.22,"v":0.03},{"x":-2.33,"y":-0.22,"v":0.03},{"x":-2.56,"y":-0.11,"v":0.03},{"x":-2.44,"y":-0.11,"v":0.03},{"x":-2.33,"y":-0.11,"v":0.03},{"x":-2.56,"y":0,"v":0.03},{"x":-2.44,"y":0,"v":0.03},{"x":-2.33,"y":0,"v":0.03},{"x":-2.56,"y":0.11,"v":0.03},{"x":-2.44,"y":0.11,"v":0.03},{"x":-2.33,"y":0.11,"v":0.03},{"x":-2.56,"y":0.22,"v":0.03},{"x":-2.44,"y":0.22,"v":0.03},{"x":-2.33,"y":0.22,"v":0.03},{"x":-2.56,"y":0.33,"v":0.03},{"x":-2.44,"y":0.33,"v":0.03},{"x":-2.33,"y":0.33,"v":0.03},
{"x":2.33,"y":-0.33,"v":0.03},{"x":2.44,"y":-0.33,"v":0.03},{"x":2.56,"y":-0.33,"v":0.03},{"x":2.33,"y":-0.22,"v":0.03},{"x":2.44,"y":-0.22,"v":0.03},{"x":2.56,"y":-0.22,"v":0.03},{"x":2.33,"y":-0.11,"v":0.03},{"x":2.44,"y":-0.11,"v":0.03},{"x":2.56,"y":-0.11,"v":0.03},{"x":2.33,"y":0,"v":0.03},{"x":2.44,"y":0,"v":0.03},{"x":2.56,"y":0,"v":0.03},{"x":2.33,"y":0.11,"v":0.03},{"x":2.44,"y":0.11,"v":0.03},{"x":2.56,"y":0.11,"v":0.03},{"x":2.33,"y":0.22,"v":0.03},{"x":2.44,"y":0.22,"v":0.03},{"x":2.56,"y":0.22,"v":0.03},
{"x":-0.22,"y":-2.44,"v":0.03},{"x":-0.11,"y":-2.44,"v":0.03},{"x":0,"y":-2.44,"v":0.03},{"x":0.11,"y":-2.44,"v":0.03},{"x":0.22,"y":-2.44,"v":0.03},{"x":0.33,"y":-2.44,"v":0.03},{"x":-0.22,"y":-2.33,"v":0.03},{"x":-0.11,"y":-2.33,"v":0.03},{"x":0,"y":-2.33,"v":0.03},{"x":0.11,"y":-2.33,"v":0.03},{"x":0.22,"y":-2.33,"v":0.03},{"x":0.33,"y":-2.33,"v":0.03},{"x":-0.22,"y":-2.22,"v":0.03},{"x":-0.11,"y":-2.22,"v":0.03},{"x":0,"y":-2.22,"v":0.03},{"x":0.11,"y":-2.22,"v":0.03},{"x":0.22,"y":-2.22,"v":0.03},{"x":0.33,"y":-2.22,"v":0.03},
{"x":-0.22,"y":2.22,"v":0.03},{"x":-0.11,"y":2.22,"v":0.03},{"x":0,"y":2.22,"v":0.03},{"x":0.11,"y":2.22,"v":0.03},{"x":-0.22,"y":2.33,"v":0.03},{"x":-0.11,"y":2.33,"v":0.03},{"x":0,"y":2.33,"v":0.03},{"x":0.11,"y":2.33,"v":0.03}
]},"mark":{"type":"rect","width":8.3,"height":7.7},
"encoding":{
"x":{"field":"x","type":"quantitative","scale":{"domain":[-3.056,3.056],"nice":false,"zero":false},"axis":{"values":[-2,0,2],"title":"x−direction (degrees)","grid":false,"domain":false,"tickSize":-4,"tickColor":"#000000","labelFont":"Liberation Sans","labelFontSize":28,"labelColor":"black","labelPadding":11,"titleFont":"Liberation Sans","titleFontSize":28,"titleFontWeight":"normal","titleColor":"black","titlePadding":3}},
"y":{"field":"y","type":"quantitative","scale":{"domain":[-3.056,3.056],"nice":false,"zero":false,"reverse":true},"axis":{"values":[-3,-2,-1,0,1,2,3],"title":"y−direction (degrees)","grid":false,"domain":false,"tickSize":-4,"tickColor":"#000000","labelFont":"Liberation Sans","labelFontSize":28,"labelColor":"black","labelPadding":9,"labelOffset":2,"titleFont":"Liberation Sans","titleFontSize":28,"titleFontWeight":"normal","titleColor":"black","titlePadding":6}},
"color":{"field":"v","type":"quantitative","scale":{"domain":[0,0.125,0.375,0.625,0.875,1],"range":["#00008F","#0000FF","#00FFFF","#FFFF00","#FF0000","#800000"],"interpolate":"rgb","clamp":true},
"legend":{"orient":"none","legendX":467,"legendY":0,"title":null,"direction":"vertical","gradientLength":408,"gradientThickness":36,"gradientStrokeColor":"#333333","gradientStrokeWidth":1,"values":[0.2,0.4,0.6,0.8],"labelFont":"Liberation Sans","labelFontSize":28,"labelColor":"black","labelOffset":5,"tickCount":4}}}},
{"data":{"values":[{"x":0,"y":0}]},"mark":{"type":"rect","width":1,"height":1,"opacity":0},
"encoding":{
"x":{"field":"x","type":"quantitative","scale":{"domain":[-3.056,3.056],"nice":false,"zero":false},"axis":{"orient":"top","values":[-2,0,2],"title":null,"labels":false,"grid":false,"domain":false,"tickSize":-4,"tickColor":"#000000"}},
"y":{"field":"y","type":"quantitative","scale":{"domain":[-3.056,3.056],"nice":false,"zero":false,"reverse":true},"axis":{"orient":"right","values":[-3,-2,-1,0,1,2,3],"title":null,"labels":false,"grid":false,"domain":false,"tickSize":-4,"tickColor":"#000000"}}}}]}
